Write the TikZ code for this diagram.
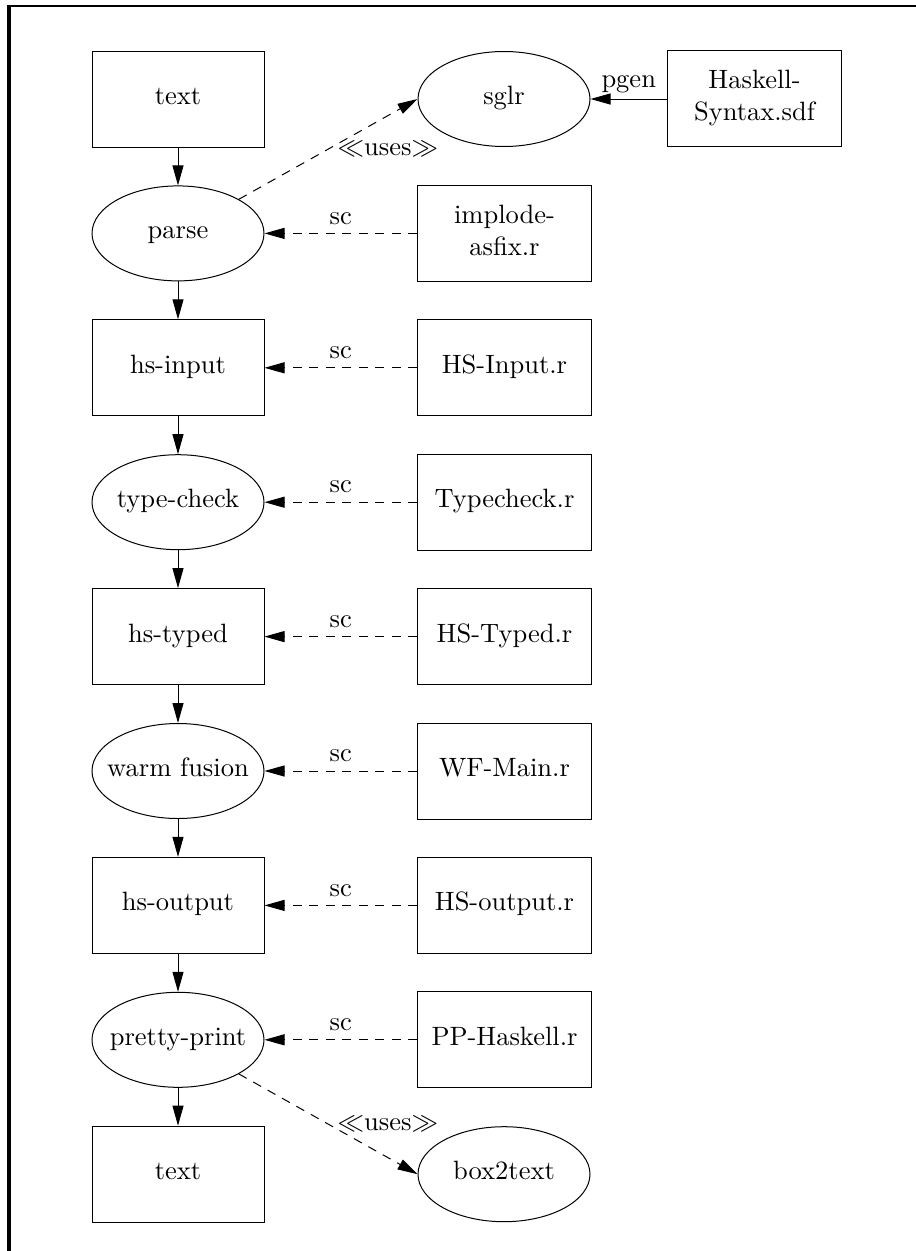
\documentclass[tikz,border=0pt]{standalone}
\usetikzlibrary{arrows.meta,shapes.geometric}
\newcommand\tx[1]{\scalebox{2.65}{\rule[-2.86pt]{0pt}{9.8pt}#1}}
\newcommand\lb[1]{\scalebox{2.65}{#1}}
\newcommand\etx[1]{\makebox[0pt]{\tx{#1}}}
\newcommand\ttx[2]{\scalebox{2.65}{\begin{tabular}{@{}c@{}}#1\\#2\end{tabular}}}
\tikzset{
  box/.style={draw, line width=1pt, minimum width=172pt, minimum height=96pt, inner sep=0pt},
  ell/.style={draw, ellipse, line width=1pt, minimum width=172pt, minimum height=95pt, inner sep=0pt},
  flow/.style={line width=1pt, -{Triangle[length=20pt,width=11pt]}},
  dep/.style={flow, dash pattern=on 9pt off 7.5pt},
  lab/.style={above, inner sep=8.5pt},
  uselab/.style={anchor=west, xshift=9pt, inner sep=0pt}
}
\begin{document}
\begin{tikzpicture}[x=1pt,y=-1pt]
\useasboundingbox (0,0) rectangle (916,1251);
\draw[line width=4pt] (9.3,1251) -- (9.3,6.2);
\draw[line width=2.4pt] (7.3,6.2) -- (916,6.2);
% left column
\node[box] (text1) at (178,99) {\tx{text}};
\node[ell] (parse) at (178,233.4) {\etx{parse}};
\node[box] (hsin) at (178,367.8) {\tx{hs-input}};
\node[ell] (tc) at (178,502.2) {\etx{type-check}};
\node[box] (hstyped) at (178,636.6) {\tx{hs-typed}};
\node[ell] (wf) at (178,771) {\etx{warm fusion}};
\node[box] (hsout) at (178,905.4) {\tx{hs-output}};
\node[ell] (pp) at (178,1039.8) {\etx{pretty-print}};
\node[box] (text2) at (178,1174.2) {\tx{text}};
% right column
\node[ell] (sglr) at (504,99) {\etx{sglr}};
\node[box, minimum width=174pt] (has) at (754.5,98.5) {\ttx{Haskell-}{Syntax.sdf}};
\node[box, minimum width=174pt] (imp) at (504.5,233.4) {\ttx{implode-}{asfix.r}};
\node[box, minimum width=174pt] (inr) at (504.5,367.8) {\tx{HS-Input.r}};
\node[box, minimum width=174pt] (tcr) at (504.5,502.2) {\tx{Typecheck.r}};
\node[box, minimum width=174pt] (typedr) at (504.5,636.6) {\tx{HS-Typed.r}};
\node[box, minimum width=174pt] (wfr) at (504.5,771) {\tx{WF-Main.r}};
\node[box, minimum width=174pt] (outr) at (504.5,905.4) {\tx{HS-output.r}};
\node[box, minimum width=174pt] (ppr) at (504.5,1039.8) {\tx{PP-Haskell.r}};
\node[ell] (b2t) at (504,1174.2) {\etx{box2text}};
% main flow
\draw[flow] (text1) -- (parse);
\draw[flow] (parse) -- (hsin);
\draw[flow] (hsin) -- (tc);
\draw[flow] (tc) -- (hstyped);
\draw[flow] (hstyped) -- (wf);
\draw[flow] (wf) -- (hsout);
\draw[flow] (hsout) -- (pp);
\draw[flow] (pp) -- (text2);
% sc edges
\draw[dep] (imp) -- node[lab] {\lb{sc}} (parse);
\draw[dep] (inr) -- node[lab] {\lb{sc}} (hsin);
\draw[dep] (tcr) -- node[lab] {\lb{sc}} (tc);
\draw[dep] (typedr) -- node[lab] {\lb{sc}} (hstyped);
\draw[dep] (wfr) -- node[lab] {\lb{sc}} (wf);
\draw[dep] (outr) -- node[lab] {\lb{sc}} (hsout);
\draw[dep] (ppr) -- node[lab] {\lb{sc}} (pp);
% pgen
\draw[flow] (has.west |- sglr.east) -- node[above, inner sep=6pt] {\lb{pgen}} (sglr.east);
% uses
\draw[dep] (parse) -- node[uselab] {\lb{$\ll$uses$\gg$}} (sglr.west);
\draw[dep] (pp) -- node[uselab] {\lb{$\ll$uses$\gg$}} (b2t.west);
\end{tikzpicture}
\end{document}
